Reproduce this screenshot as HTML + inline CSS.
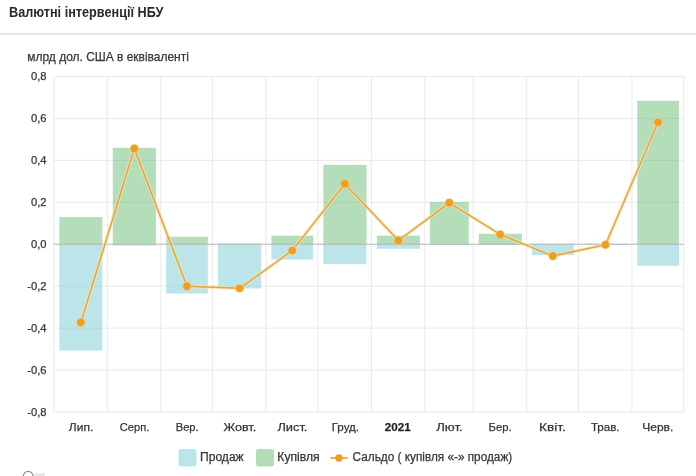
<!DOCTYPE html>
<html lang="uk"><head><meta charset="utf-8"><title>Валютні інтервенції НБУ</title>
<style>
html,body{margin:0;padding:0;background:#fff;}
body{width:696px;height:476px;position:relative;overflow:hidden;font-family:"Liberation Sans",sans-serif;}
.title{position:absolute;left:8.8px;top:3.7px;font-size:14px;font-weight:bold;color:#2a2a2a;white-space:nowrap;line-height:16px;transform:scaleX(0.905);transform-origin:0 0;}
.hr{position:absolute;left:0;top:32.8px;width:696px;height:2px;background:#e6e6e6;}
svg text{font-family:"Liberation Sans",sans-serif;fill:#363636;stroke:#363636;stroke-width:0.25px;}
.ax{font-size:11.2px;}
.b{font-weight:bold;fill:#222;}
.sub{font-size:13px;}
.lg{font-size:12px;}
</style></head><body>
<div class="title">Валютні інтервенції НБУ</div>
<div class="hr"></div>
<svg width="696" height="476" viewBox="0 0 696 476" style="position:absolute;left:0;top:0">
<line x1="53.80" y1="76.5" x2="53.80" y2="412.0" stroke="#e9e9e9" stroke-width="1"/>
<line x1="107.30" y1="76.5" x2="107.30" y2="412.0" stroke="#e9e9e9" stroke-width="1"/>
<line x1="160.80" y1="76.5" x2="160.80" y2="412.0" stroke="#e9e9e9" stroke-width="1"/>
<line x1="212.57" y1="76.5" x2="212.57" y2="412.0" stroke="#e9e9e9" stroke-width="1"/>
<line x1="266.07" y1="76.5" x2="266.07" y2="412.0" stroke="#e9e9e9" stroke-width="1"/>
<line x1="317.84" y1="76.5" x2="317.84" y2="412.0" stroke="#e9e9e9" stroke-width="1"/>
<line x1="371.34" y1="76.5" x2="371.34" y2="412.0" stroke="#e9e9e9" stroke-width="1"/>
<line x1="424.84" y1="76.5" x2="424.84" y2="412.0" stroke="#e9e9e9" stroke-width="1"/>
<line x1="473.16" y1="76.5" x2="473.16" y2="412.0" stroke="#e9e9e9" stroke-width="1"/>
<line x1="526.66" y1="76.5" x2="526.66" y2="412.0" stroke="#e9e9e9" stroke-width="1"/>
<line x1="578.43" y1="76.5" x2="578.43" y2="412.0" stroke="#e9e9e9" stroke-width="1"/>
<line x1="631.93" y1="76.5" x2="631.93" y2="412.0" stroke="#e9e9e9" stroke-width="1"/>
<line x1="683.70" y1="76.5" x2="683.70" y2="412.0" stroke="#e9e9e9" stroke-width="1"/>
<line x1="53.8" y1="76.50" x2="683.7" y2="76.50" stroke="#e9e9e9" stroke-width="1"/>
<line x1="53.8" y1="118.44" x2="683.7" y2="118.44" stroke="#e9e9e9" stroke-width="1"/>
<line x1="53.8" y1="160.38" x2="683.7" y2="160.38" stroke="#e9e9e9" stroke-width="1"/>
<line x1="53.8" y1="202.31" x2="683.7" y2="202.31" stroke="#e9e9e9" stroke-width="1"/>
<line x1="53.8" y1="244.25" x2="683.7" y2="244.25" stroke="#e9e9e9" stroke-width="1"/>
<line x1="53.8" y1="286.19" x2="683.7" y2="286.19" stroke="#e9e9e9" stroke-width="1"/>
<line x1="53.8" y1="328.12" x2="683.7" y2="328.12" stroke="#e9e9e9" stroke-width="1"/>
<line x1="53.8" y1="370.06" x2="683.7" y2="370.06" stroke="#e9e9e9" stroke-width="1"/>
<line x1="53.8" y1="412.00" x2="683.7" y2="412.00" stroke="#e9e9e9" stroke-width="1"/>
<rect x="59.32" y="216.99" width="43.07" height="27.26" fill="rgba(105,189,115,0.5)"/>
<rect x="59.32" y="244.25" width="43.07" height="106.31" fill="rgba(119,203,211,0.5)"/>
<rect x="112.81" y="147.79" width="43.07" height="96.46" fill="rgba(105,189,115,0.5)"/>
<rect x="112.81" y="244.25" width="43.07" height="1.26" fill="rgba(119,203,211,0.5)"/>
<rect x="166.14" y="236.70" width="41.68" height="7.55" fill="rgba(105,189,115,0.5)"/>
<rect x="166.14" y="244.25" width="41.68" height="49.28" fill="rgba(119,203,211,0.5)"/>
<rect x="218.09" y="243.62" width="43.07" height="0.63" fill="rgba(105,189,115,0.5)"/>
<rect x="218.09" y="244.25" width="43.07" height="44.24" fill="rgba(119,203,211,0.5)"/>
<rect x="271.42" y="235.65" width="41.68" height="8.60" fill="rgba(105,189,115,0.5)"/>
<rect x="271.42" y="244.25" width="41.68" height="15.31" fill="rgba(119,203,211,0.5)"/>
<rect x="323.36" y="164.78" width="43.07" height="79.47" fill="rgba(105,189,115,0.5)"/>
<rect x="323.36" y="244.25" width="43.07" height="19.92" fill="rgba(119,203,211,0.5)"/>
<rect x="376.85" y="235.65" width="43.07" height="8.60" fill="rgba(105,189,115,0.5)"/>
<rect x="376.85" y="244.25" width="43.07" height="4.61" fill="rgba(119,203,211,0.5)"/>
<rect x="429.85" y="201.89" width="38.90" height="42.36" fill="rgba(105,189,115,0.5)"/>
<rect x="429.85" y="244.25" width="38.90" height="0.63" fill="rgba(119,203,211,0.5)"/>
<rect x="478.67" y="233.77" width="43.07" height="10.48" fill="rgba(105,189,115,0.5)"/>
<rect x="478.67" y="244.25" width="43.07" height="0.84" fill="rgba(119,203,211,0.5)"/>
<rect x="532.00" y="243.83" width="41.68" height="0.42" fill="rgba(105,189,115,0.5)"/>
<rect x="532.00" y="244.25" width="41.68" height="10.90" fill="rgba(119,203,211,0.5)"/>
<rect x="583.95" y="243.83" width="43.07" height="0.42" fill="rgba(105,189,115,0.5)"/>
<rect x="583.95" y="244.25" width="43.07" height="0.84" fill="rgba(119,203,211,0.5)"/>
<rect x="637.28" y="100.82" width="41.68" height="143.43" fill="rgba(105,189,115,0.5)"/>
<rect x="637.28" y="244.25" width="41.68" height="21.60" fill="rgba(119,203,211,0.5)"/>
<line x1="53.8" y1="244.25" x2="683.7" y2="244.25" stroke="#b4b4b4" stroke-width="0.9"/>
<polyline points="80.85,322.54 134.35,148.50 186.98,286.27 239.62,288.37 292.25,250.62 344.89,183.73 398.39,240.56 449.30,202.81 500.21,234.48 552.84,256.07 605.48,244.75 658.11,122.29" fill="none" stroke="#f7e4ad" stroke-width="3.6" stroke-linejoin="round" opacity="0.72"/>
<polyline points="80.85,322.54 134.35,148.50 186.98,286.27 239.62,288.37 292.25,250.62 344.89,183.73 398.39,240.56 449.30,202.81 500.21,234.48 552.84,256.07 605.48,244.75 658.11,122.29" fill="none" stroke="#e4a03c" stroke-width="1.5" stroke-linejoin="round" opacity="0.95"/>
<circle cx="80.85" cy="322.54" r="4.5" fill="#f6c777" opacity="0.8"/>
<circle cx="80.85" cy="322.54" r="3.7" fill="#f19d1d"/>
<circle cx="134.35" cy="148.50" r="4.5" fill="#f6c777" opacity="0.8"/>
<circle cx="134.35" cy="148.50" r="3.7" fill="#f19d1d"/>
<circle cx="186.98" cy="286.27" r="4.5" fill="#f6c777" opacity="0.8"/>
<circle cx="186.98" cy="286.27" r="3.7" fill="#f19d1d"/>
<circle cx="239.62" cy="288.37" r="4.5" fill="#f6c777" opacity="0.8"/>
<circle cx="239.62" cy="288.37" r="3.7" fill="#f19d1d"/>
<circle cx="292.25" cy="250.62" r="4.5" fill="#f6c777" opacity="0.8"/>
<circle cx="292.25" cy="250.62" r="3.7" fill="#f19d1d"/>
<circle cx="344.89" cy="183.73" r="4.5" fill="#f6c777" opacity="0.8"/>
<circle cx="344.89" cy="183.73" r="3.7" fill="#f19d1d"/>
<circle cx="398.39" cy="240.56" r="4.5" fill="#f6c777" opacity="0.8"/>
<circle cx="398.39" cy="240.56" r="3.7" fill="#f19d1d"/>
<circle cx="449.30" cy="202.81" r="4.5" fill="#f6c777" opacity="0.8"/>
<circle cx="449.30" cy="202.81" r="3.7" fill="#f19d1d"/>
<circle cx="500.21" cy="234.48" r="4.5" fill="#f6c777" opacity="0.8"/>
<circle cx="500.21" cy="234.48" r="3.7" fill="#f19d1d"/>
<circle cx="552.84" cy="256.07" r="4.5" fill="#f6c777" opacity="0.8"/>
<circle cx="552.84" cy="256.07" r="3.7" fill="#f19d1d"/>
<circle cx="605.48" cy="244.75" r="4.5" fill="#f6c777" opacity="0.8"/>
<circle cx="605.48" cy="244.75" r="3.7" fill="#f19d1d"/>
<circle cx="658.11" cy="122.29" r="4.5" fill="#f6c777" opacity="0.8"/>
<circle cx="658.11" cy="122.29" r="3.7" fill="#f19d1d"/>
<text x="46.5" y="80.20" text-anchor="end" class="ax">0,8</text>
<text x="46.5" y="122.14" text-anchor="end" class="ax">0,6</text>
<text x="46.5" y="164.07" text-anchor="end" class="ax">0,4</text>
<text x="46.5" y="206.01" text-anchor="end" class="ax">0,2</text>
<text x="46.5" y="247.95" text-anchor="end" class="ax">0,0</text>
<text x="46.5" y="289.89" text-anchor="end" class="ax">-0,2</text>
<text x="46.5" y="331.82" text-anchor="end" class="ax">-0,4</text>
<text x="46.5" y="373.76" text-anchor="end" class="ax">-0,6</text>
<text x="46.5" y="415.70" text-anchor="end" class="ax">-0,8</text>
<text x="68.85" y="430.5" textLength="24.4" lengthAdjust="spacingAndGlyphs" class="ax">Лип.</text>
<text x="119.85" y="430.5" textLength="29.4" lengthAdjust="spacingAndGlyphs" class="ax">Серп.</text>
<text x="175.68" y="430.5" textLength="23" lengthAdjust="spacingAndGlyphs" class="ax">Вер.</text>
<text x="223.47" y="430.5" textLength="32.7" lengthAdjust="spacingAndGlyphs" class="ax">Жовт.</text>
<text x="277.45" y="430.5" textLength="30" lengthAdjust="spacingAndGlyphs" class="ax">Лист.</text>
<text x="331.69" y="430.5" textLength="27.4" lengthAdjust="spacingAndGlyphs" class="ax">Груд.</text>
<text x="384.89" y="430.5" textLength="25.8" lengthAdjust="spacingAndGlyphs" class="ax b">2021</text>
<text x="436.20" y="430.5" textLength="26.6" lengthAdjust="spacingAndGlyphs" class="ax">Лют.</text>
<text x="488.51" y="430.5" textLength="23.2" lengthAdjust="spacingAndGlyphs" class="ax">Бер.</text>
<text x="539.14" y="430.5" textLength="26.6" lengthAdjust="spacingAndGlyphs" class="ax">Квіт.</text>
<text x="590.98" y="430.5" textLength="28.6" lengthAdjust="spacingAndGlyphs" class="ax">Трав.</text>
<text x="642.31" y="430.5" textLength="31" lengthAdjust="spacingAndGlyphs" class="ax">Черв.</text>
<text x="27.3" y="61.3" class="sub" textLength="161.5" lengthAdjust="spacingAndGlyphs">млрд дол. США в еквіваленті</text>
<rect x="178.5" y="449" width="18" height="17.5" rx="2.5" fill="rgba(119,203,211,0.5)"/>
<text x="200" y="461.3" class="lg" textLength="43.7" lengthAdjust="spacingAndGlyphs">Продаж</text>
<rect x="256" y="449" width="18" height="17.5" rx="2.5" fill="rgba(105,189,115,0.5)"/>
<text x="277.3" y="461.3" class="lg" textLength="42.3" lengthAdjust="spacingAndGlyphs">Купівля</text>
<line x1="330.5" y1="458" x2="347.8" y2="458" stroke="#f19d1d" stroke-width="1.6"/>
<circle cx="339.0" cy="458" r="3.7" fill="#f19d1d"/>
<text x="352.6" y="461.3" class="lg" textLength="159.6" lengthAdjust="spacingAndGlyphs">Сальдо ( купівля «-» продаж)</text>
<circle cx="28.2" cy="476.3" r="4.9" fill="none" stroke="#8c8c8c" stroke-width="1.2"/>
<rect x="34.5" y="473.3" width="10.5" height="3" fill="#dcdcdc" opacity="0.7"/>
</svg>
</body></html>
